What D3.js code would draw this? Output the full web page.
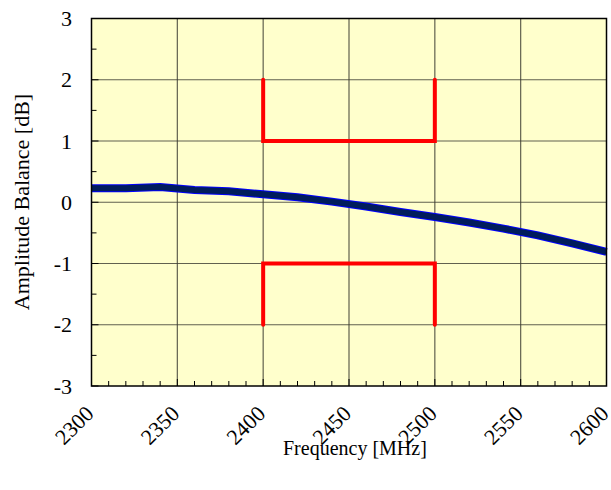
<!DOCTYPE html>
<html><head><meta charset="utf-8">
<script src="https://cdn.jsdelivr.net/npm/d3@7"></script>
<style>body{margin:0;background:#fff}svg{display:block}text{font-family:"Liberation Serif","Times New Roman",serif;fill:#000}</style>
</head><body><svg id="c" width="611" height="490"></svg>
<script>
const freq = [2300,2320,2340,2360,2380,2400,2420,2440,2460,2480,2500,2520,2540,2560,2580,2600];
const balance = [0.23,0.23,0.25,0.20,0.18,0.13,0.08,0.01,-0.07,-0.16,-0.24,-0.33,-0.43,-0.54,-0.67,-0.81];
const upperSpecX = [2400,2400,2500,2500];
const upperSpecY = [2,1,1,2];
const lowerSpecX = [2400,2400,2500,2500];
const lowerSpecY = [-2,-1,-1,-2];
const xTicks = [2300,2350,2400,2450,2500,2550,2600];
const yTicks = [3,2,1,0,-1,-2,-3];

const svg = d3.select("#c");
const L=91.5,R=606.5,T=18.5,B=386;
const x = d3.scaleLinear().domain([2300,2600]).range([L,R]);
const y = d3.scaleLinear().domain([-3,3]).range([B,T]);

svg.append("rect").attr("x",L).attr("y",T).attr("width",R-L).attr("height",B-T).attr("fill","#ffffcc");

const g = svg.append("g");
g.selectAll(".vg").data(xTicks.slice(1,-1)).join("line")
 .attr("x1",d=>x(d)).attr("x2",d=>x(d)).attr("y1",T).attr("y2",B).attr("stroke","#3a3a30").attr("stroke-width",1.2).attr("opacity",0.8);
g.selectAll(".hg").data(yTicks.slice(1,-1)).join("line")
 .attr("y1",d=>y(d)).attr("y2",d=>y(d)).attr("x1",L).attr("x2",R).attr("stroke","#3a3a30").attr("stroke-width",1.2).attr("opacity",0.8);

const xMinor = d3.range(2300,2601,10);
g.selectAll(".xm").data(xMinor).join("line")
 .attr("x1",d=>x(d)).attr("x2",d=>x(d)).attr("y1",B).attr("y2",d=>B-(d%50===0?7:5)).attr("stroke","#000").attr("stroke-width",1);
const yMinor = d3.range(-3,3.01,0.5);
g.selectAll(".ym").data(yMinor).join("line")
 .attr("y1",d=>y(d)).attr("y2",d=>y(d)).attr("x1",L).attr("x2",d=>L+(Number.isInteger(d)?7:5)).attr("stroke","#000").attr("stroke-width",1);

const spec = d3.line().x(d=>x(d[0])).y(d=>y(d[1]));
[[upperSpecX,upperSpecY],[lowerSpecX,lowerSpecY]].forEach(([xs,ys])=>{
  svg.append("path").attr("d",spec(xs.map((v,i)=>[v,ys[i]]))).attr("fill","none")
   .attr("stroke","#ff0000").attr("stroke-width",4).attr("stroke-linejoin","miter").attr("stroke-linecap","round");
});

const line = d3.line().x((d,i)=>x(freq[i])).y(d=>y(d));
svg.append("path").attr("d",line(balance)).attr("fill","none").attr("stroke","#0000ff").attr("stroke-width",8);
svg.append("path").attr("d",line(balance)).attr("fill","none").attr("stroke","#001c5c").attr("stroke-width",6);

svg.append("rect").attr("x",L).attr("y",T).attr("width",R-L).attr("height",B-T).attr("fill","none").attr("stroke","#000").attr("stroke-width",1.5);

svg.selectAll(".yl").data(yTicks).join("text")
 .attr("x",72).attr("y",d=>y(d)).attr("dy","0.35em").attr("text-anchor","end").attr("font-size",22).text(d=>d);
svg.selectAll(".xl").data(xTicks).join("text")
 .attr("transform",d=>`translate(${x(d)+3.5},${415}) rotate(-45)`).attr("text-anchor","end").attr("font-size",22).text(d=>d);

svg.append("text").attr("x",283).attr("y",455).attr("text-anchor","start").attr("font-size",20).text("Frequency [MHz]");
svg.append("text").attr("transform","translate(29,202) rotate(-90)").attr("text-anchor","middle").attr("font-size",22).text("Amplitude Balance [dB]");
</script></body></html>
